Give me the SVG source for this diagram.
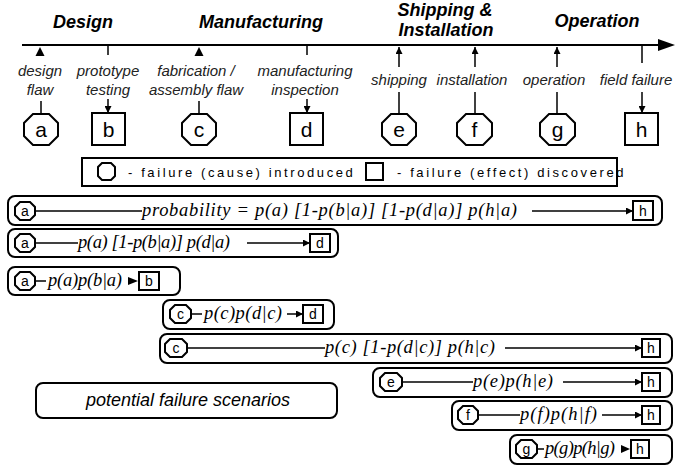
<svg xmlns="http://www.w3.org/2000/svg" width="692" height="467" viewBox="0 0 692 467">
<style>
.phase{font-family:"Liberation Sans",Arial,sans-serif;font-size:18px;font-weight:bold;font-style:italic;fill:#000;text-anchor:middle}
.lbl{font-family:"Liberation Sans",Arial,sans-serif;font-size:15px;font-style:italic;fill:#222;text-anchor:middle}
.big{font-family:"Liberation Sans",Arial,sans-serif;font-size:21px;fill:#000;text-anchor:middle}
.sm{font-family:"Liberation Sans",Arial,sans-serif;font-size:14px;fill:#000;text-anchor:middle}
.leg{font-family:"Liberation Sans",Arial,sans-serif;font-size:13px;letter-spacing:2.6px;fill:#000}
.f{font-family:"Liberation Serif","Times New Roman",serif;font-size:18.5px;font-style:italic;fill:#000}
.pfs{font-family:"Liberation Sans",Arial,sans-serif;font-size:18px;font-style:italic;fill:#000;text-anchor:middle}
.node{fill:#fff;stroke:#000;stroke-width:2}
.band{fill:none;stroke:#000;stroke-width:2}
.ln{stroke:#000;stroke-width:1.5;fill:none}
.ah{fill:#000}
</style>
<defs>
<marker id="arr" viewBox="0 0 10 10" refX="10" refY="5" markerWidth="7" markerHeight="7" markerUnits="userSpaceOnUse" orient="auto"><path d="M0,0 L10,5 L0,10 z" fill="#000"/></marker>
</defs>

<g id="phases">
<text class="phase" x="83" y="28">Design</text>
<text class="phase" x="261" y="28">Manufacturing</text>
<text class="phase" x="445" y="16">Shipping &amp;</text>
<text class="phase" x="446" y="36">Installation</text>
<text class="phase" x="597" y="27">Operation</text>
</g>

<g id="timeline">
<line x1="22" y1="45" x2="662" y2="45" stroke="#000" stroke-width="2.2"/>
<polygon class="ah" points="658,39 675,45 658,51"/>
</g>

<g id="node-a">
<polygon class="ah" points="40,47 35.5,56 44.5,56"/>
<text class="lbl" x="40" y="76">design</text>
<text class="lbl" x="40" y="95">flaw</text>
<line class="ln" x1="41" y1="101" x2="41" y2="114"/>
<polygon class="node" points="33,114 49,114 58,123 58,136 49,145 33,145 24,136 24,123"/>
<text class="big" x="41" y="137">a</text>
</g>
<g id="node-b">
<line class="ln" x1="108" y1="45" x2="108" y2="55"/>
<text class="lbl" x="108" y="76">prototype</text>
<text class="lbl" x="108" y="95">testing</text>
<line class="ln" x1="108" y1="99" x2="108" y2="113" marker-end="url(#arr)"/>
<rect class="node" x="92" y="113" width="33" height="32"/>
<text class="big" x="108.5" y="137">b</text>
</g>
<g id="node-c">
<polygon class="ah" points="199,47 194.5,56 203.5,56"/>
<text class="lbl" x="196" y="76">fabrication /</text>
<text class="lbl" x="196" y="95">assembly flaw</text>
<line class="ln" x1="199" y1="101" x2="199" y2="114"/>
<polygon class="node" points="191,114 207,114 216,123 216,136 207,145 191,145 182,136 182,123"/>
<text class="big" x="199" y="137">c</text>
</g>
<g id="node-d">
<line class="ln" x1="307" y1="45" x2="307" y2="55"/>
<text class="lbl" x="305" y="76">manufacturing</text>
<text class="lbl" x="305" y="95">inspection</text>
<line class="ln" x1="307" y1="99" x2="307" y2="113" marker-end="url(#arr)"/>
<rect class="node" x="290" y="113" width="33" height="32"/>
<text class="big" x="306.5" y="137">d</text>
</g>
<g id="node-e">
<line class="ln" x1="399" y1="67" x2="399" y2="47" marker-end="url(#arr)"/>
<text class="lbl" x="399" y="85">shipping</text>
<line class="ln" x1="399" y1="92" x2="399" y2="114"/>
<polygon class="node" points="391,114 407,114 416,123 416,136 407,145 391,145 382,136 382,123"/>
<text class="big" x="399" y="137">e</text>
</g>
<g id="node-f">
<line class="ln" x1="475" y1="67" x2="475" y2="47" marker-end="url(#arr)"/>
<text class="lbl" x="472" y="85">installation</text>
<line class="ln" x1="475" y1="92" x2="475" y2="114"/>
<polygon class="node" points="466,114 483,114 492,123 492,136 483,145 466,145 457,136 457,123"/>
<text class="big" x="474.5" y="137">f</text>
</g>
<g id="node-g">
<line class="ln" x1="557" y1="67" x2="557" y2="47" marker-end="url(#arr)"/>
<text class="lbl" x="554" y="85">operation</text>
<line class="ln" x1="557" y1="92" x2="557" y2="114"/>
<polygon class="node" points="549,114 566,114 575,123 575,136 566,145 549,145 540,136 540,123"/>
<text class="big" x="557.5" y="137">g</text>
</g>
<g id="node-h">
<line class="ln" x1="642" y1="45" x2="642" y2="63"/>
<text class="lbl" x="636" y="85">field failure</text>
<line class="ln" x1="642" y1="92" x2="642" y2="113" marker-end="url(#arr)"/>
<rect class="node" x="625" y="113" width="33" height="32"/>
<text class="big" x="641.5" y="137">h</text>
</g>

<g id="legend">
<rect x="82" y="158" width="535" height="28" fill="none" stroke="#000" stroke-width="2"/>
<polygon class="node" points="102,163 111,163 115,167 115,176 111,180 102,180 98,176 98,167"/>
<text class="leg" x="128" y="177">- failure (cause) introduced</text>
<rect class="node" x="366" y="163" width="17" height="17"/>
<text class="leg" x="397" y="177">- failure (effect) discovered</text>
</g>

<g id="connectors">
<line class="ln" x1="35" y1="211" x2="142" y2="211"/>
<line class="ln" x1="532" y1="211" x2="633" y2="211" marker-end="url(#arr)"/>
<line class="ln" x1="35" y1="243" x2="78" y2="243"/>
<line class="ln" x1="247" y1="243" x2="310" y2="243" marker-end="url(#arr)"/>
<line class="ln" x1="35" y1="281" x2="46" y2="281"/>
<line class="ln" x1="191" y1="314" x2="202" y2="314"/>
<line class="ln" x1="287" y1="314" x2="303" y2="314" marker-end="url(#arr)"/>
<line class="ln" x1="187" y1="348" x2="325" y2="348"/>
<line class="ln" x1="505" y1="348" x2="642" y2="348" marker-end="url(#arr)"/>
<line class="ln" x1="402" y1="382" x2="473" y2="382"/>
<line class="ln" x1="563" y1="382" x2="642" y2="382" marker-end="url(#arr)"/>
<line class="ln" x1="478" y1="415" x2="520" y2="415"/>
<line class="ln" x1="602" y1="415" x2="642" y2="415" marker-end="url(#arr)"/>
<line class="ln" x1="537" y1="449" x2="544" y2="449"/>
</g>

<g id="scenario-1">
<rect class="band" x="8" y="196" width="654" height="29" rx="7"/>
<polygon class="node" points="20,202 30,202 35,207 35,215 30,220 20,220 15,215 15,207"/>
<text class="sm" x="25" y="216">a</text>
<text class="f" x="142" y="216" textLength="375" lengthAdjust="spacing">probability = p(a) [1-p(b|a)] [1-p(d|a)] p(h|a)</text>
<rect class="node" x="633" y="201" width="20" height="19"/>
<text class="sm" x="643" y="216">h</text>
</g>
<g id="scenario-2">
<rect class="band" x="8" y="229" width="330" height="28" rx="7"/>
<polygon class="node" points="20,234 30,234 35,239 35,247 30,252 20,252 15,247 15,239"/>
<text class="sm" x="25" y="248">a</text>
<text class="f" x="78" y="248" textLength="152" lengthAdjust="spacing">p(a) [1-p(b|a)] p(d|a)</text>
<rect class="node" x="310" y="234" width="20" height="18"/>
<text class="sm" x="320" y="248">d</text>
</g>
<g id="scenario-3">
<rect class="band" x="8" y="267" width="172" height="28" rx="7"/>
<polygon class="node" points="20,272 30,272 35,277 35,285 30,290 20,290 15,285 15,277"/>
<text class="sm" x="25" y="286">a</text>
<text class="f" x="48" y="286" textLength="74" lengthAdjust="spacing">p(a)p(b|a)</text>
<polygon class="ah" points="128,277 138,281 128,285"/>
<rect class="node" x="139" y="272" width="20" height="18"/>
<text class="sm" x="149" y="286">b</text>
</g>
<g id="scenario-4">
<rect class="band" x="163" y="300" width="171" height="29" rx="7"/>
<polygon class="node" points="175,305 186,305 191,310 191,318 186,323 175,323 170,318 170,310"/>
<text class="sm" x="180.5" y="319">c</text>
<text class="f" x="204" y="319" textLength="78" lengthAdjust="spacing">p(c)p(d|c)</text>
<rect class="node" x="303" y="305" width="20" height="18"/>
<text class="sm" x="313" y="319">d</text>
</g>
<g id="scenario-5">
<rect class="band" x="160" y="334" width="512" height="29" rx="7"/>
<polygon class="node" points="170,339 182,339 187,344 187,352 182,357 170,357 165,352 165,344"/>
<text class="sm" x="176" y="353">c</text>
<text class="f" x="325" y="353" textLength="170" lengthAdjust="spacing">p(c) [1-p(d|c)] p(h|c)</text>
<rect class="node" x="642" y="339" width="18" height="18"/>
<text class="sm" x="651" y="353">h</text>
</g>
<g id="scenario-6">
<rect class="band" x="373" y="368" width="299" height="29" rx="7"/>
<polygon class="node" points="385,373 397,373 402,378 402,386 397,391 385,391 380,386 380,378"/>
<text class="sm" x="391" y="387">e</text>
<text class="f" x="473" y="387" textLength="80" lengthAdjust="spacing">p(e)p(h|e)</text>
<rect class="node" x="642" y="373" width="18" height="18"/>
<text class="sm" x="651" y="387">h</text>
</g>
<g id="scenario-7">
<rect class="band" x="452" y="401" width="220" height="29" rx="7"/>
<polygon class="node" points="463,406 473,406 478,411 478,419 473,424 463,424 458,419 458,411"/>
<text class="sm" x="468" y="420">f</text>
<text class="f" x="520" y="420" textLength="77" lengthAdjust="spacing">p(f)p(h|f)</text>
<rect class="node" x="642" y="406" width="18" height="18"/>
<text class="sm" x="651" y="420">h</text>
</g>
<g id="scenario-8">
<rect class="band" x="510" y="435" width="162" height="29" rx="7"/>
<polygon class="node" points="521,440 532,440 537,445 537,453 532,458 521,458 516,453 516,445"/>
<text class="sm" x="526.5" y="454">g</text>
<text class="f" x="545" y="454" textLength="70" lengthAdjust="spacing">p(g)p(h|g)</text>
<polygon class="ah" points="621,445 630,449 621,453"/>
<rect class="node" x="631" y="440" width="18" height="18"/>
<text class="sm" x="640" y="454">h</text>
</g>

<g id="caption">
<rect class="band" x="36" y="383" width="301" height="35" rx="7"/>
<text class="pfs" x="188" y="406">potential failure scenarios</text>
</g>
</svg>
